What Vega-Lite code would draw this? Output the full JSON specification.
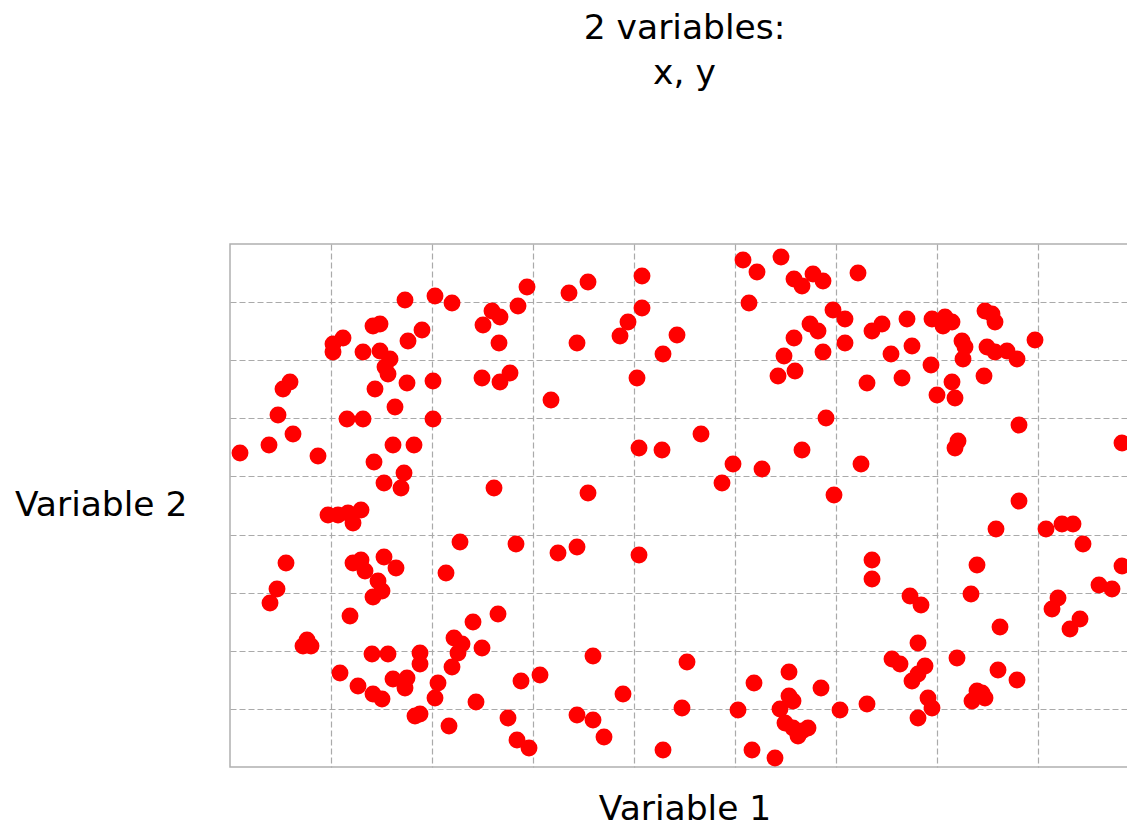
{
  "$schema": "https://vega.github.io/schema/vega-lite/v6.json",
  "width": 909,
  "height": 523,
  "padding": {"left": 14, "top": 10, "right": 0, "bottom": 0},
  "background": "white",
  "title": {
    "text": ["2 variables:", "x, y"],
    "font": "DejaVu Sans",
    "fontSize": 34.5,
    "fontWeight": "normal",
    "color": "#000000",
    "lineHeight": 45,
    "anchor": "middle",
    "frame": "group",
    "offset": 153
  },
  "config": {
    "view": {"stroke": "#b0b0b0", "strokeWidth": 1.5},
    "axis": {
      "labels": false,
      "ticks": false,
      "domain": false,
      "grid": true,
      "gridColor": "#aaaaaa",
      "gridWidth": 1.2,
      "gridDash": [6, 3],
      "gridOpacity": 1,
      "titleFont": "DejaVu Sans",
      "titleFontSize": 34.5,
      "titleFontWeight": "normal",
      "titleColor": "#000000"
    }
  },
  "data": {
    "values": [
      {"x": 297, "y": 480}, {"x": 175, "y": 467}, {"x": 205, "y": 471}, {"x": 222, "y": 464},
      {"x": 262, "y": 456}, {"x": 270, "y": 450}, {"x": 253, "y": 442}, {"x": 288, "y": 461},
      {"x": 269, "y": 424}, {"x": 143, "y": 441}, {"x": 150, "y": 443}, {"x": 192, "y": 437},
      {"x": 178, "y": 426}, {"x": 113, "y": 429}, {"x": 103, "y": 423}, {"x": 103, "y": 415},
      {"x": 133, "y": 415}, {"x": 150, "y": 416}, {"x": 160, "y": 408}, {"x": 155, "y": 400},
      {"x": 158, "y": 393}, {"x": 177, "y": 384}, {"x": 203, "y": 386}, {"x": 145, "y": 378},
      {"x": 252, "y": 389}, {"x": 270, "y": 385}, {"x": 280, "y": 394}, {"x": 60, "y": 385},
      {"x": 53, "y": 378}, {"x": 165, "y": 360}, {"x": 48, "y": 352}, {"x": 117, "y": 348},
      {"x": 133, "y": 348}, {"x": 203, "y": 348},
      {"x": 339, "y": 474}, {"x": 358, "y": 485}, {"x": 412, "y": 491}, {"x": 412, "y": 459},
      {"x": 398, "y": 445}, {"x": 390, "y": 431}, {"x": 347, "y": 424}, {"x": 447, "y": 432},
      {"x": 433, "y": 413}, {"x": 407, "y": 389}, {"x": 321, "y": 367}, {"x": 513, "y": 507},
      {"x": 527, "y": 495}, {"x": 551, "y": 510}, {"x": 564, "y": 488}, {"x": 572, "y": 481},
      {"x": 583, "y": 493}, {"x": 593, "y": 486}, {"x": 519, "y": 464}, {"x": 603, "y": 457},
      {"x": 580, "y": 443}, {"x": 588, "y": 436}, {"x": 564, "y": 429}, {"x": 593, "y": 415},
      {"x": 554, "y": 411}, {"x": 565, "y": 396}, {"x": 548, "y": 391}, {"x": 596, "y": 349},
      {"x": 628, "y": 494}, {"x": 615, "y": 448}, {"x": 642, "y": 436}, {"x": 652, "y": 443},
      {"x": 677, "y": 448}, {"x": 615, "y": 424}, {"x": 661, "y": 413}, {"x": 682, "y": 421},
      {"x": 702, "y": 448}, {"x": 715, "y": 450}, {"x": 722, "y": 445}, {"x": 713, "y": 441},
      {"x": 732, "y": 426}, {"x": 735, "y": 420}, {"x": 733, "y": 408}, {"x": 701, "y": 402},
      {"x": 672, "y": 389}, {"x": 637, "y": 384}, {"x": 722, "y": 385}, {"x": 707, "y": 372},
      {"x": 725, "y": 369}, {"x": 754, "y": 391}, {"x": 755, "y": 456}, {"x": 762, "y": 453},
      {"x": 765, "y": 445}, {"x": 757, "y": 420}, {"x": 765, "y": 415}, {"x": 777, "y": 416},
      {"x": 787, "y": 408}, {"x": 805, "y": 427}, {"x": 789, "y": 342},
      {"x": 63, "y": 333}, {"x": 39, "y": 322}, {"x": 10, "y": 314}, {"x": 88, "y": 311},
      {"x": 163, "y": 322}, {"x": 184, "y": 322}, {"x": 144, "y": 305}, {"x": 174, "y": 294},
      {"x": 154, "y": 284}, {"x": 171, "y": 279}, {"x": 264, "y": 279}, {"x": 98, "y": 252},
      {"x": 108, "y": 252}, {"x": 118, "y": 254}, {"x": 131, "y": 257}, {"x": 123, "y": 244},
      {"x": 230, "y": 225}, {"x": 286, "y": 223}, {"x": 56, "y": 204}, {"x": 123, "y": 204},
      {"x": 131, "y": 207}, {"x": 154, "y": 210}, {"x": 166, "y": 199}, {"x": 135, "y": 196},
      {"x": 216, "y": 194}, {"x": 148, "y": 186}, {"x": 152, "y": 176}, {"x": 143, "y": 170},
      {"x": 47, "y": 178}, {"x": 40, "y": 164},
      {"x": 409, "y": 319}, {"x": 432, "y": 317}, {"x": 471, "y": 333}, {"x": 503, "y": 303},
      {"x": 492, "y": 284}, {"x": 532, "y": 298}, {"x": 572, "y": 317}, {"x": 358, "y": 274},
      {"x": 604, "y": 272}, {"x": 328, "y": 214}, {"x": 347, "y": 220}, {"x": 409, "y": 212},
      {"x": 631, "y": 303}, {"x": 728, "y": 326}, {"x": 725, "y": 319}, {"x": 892, "y": 324},
      {"x": 789, "y": 266}, {"x": 766, "y": 238}, {"x": 816, "y": 238}, {"x": 832, "y": 243},
      {"x": 843, "y": 243}, {"x": 853, "y": 223}, {"x": 642, "y": 207}, {"x": 642, "y": 188},
      {"x": 747, "y": 202}, {"x": 892, "y": 201}, {"x": 680, "y": 171}, {"x": 691, "y": 162},
      {"x": 741, "y": 173}, {"x": 828, "y": 169}, {"x": 822, "y": 158}, {"x": 869, "y": 182},
      {"x": 882, "y": 178}, {"x": 850, "y": 148}, {"x": 840, "y": 138}, {"x": 770, "y": 140},
      {"x": 120, "y": 151}, {"x": 77, "y": 127}, {"x": 73, "y": 121}, {"x": 81, "y": 121},
      {"x": 142, "y": 113}, {"x": 158, "y": 113}, {"x": 190, "y": 114}, {"x": 190, "y": 103},
      {"x": 110, "y": 94}, {"x": 128, "y": 81}, {"x": 143, "y": 73}, {"x": 152, "y": 68},
      {"x": 163, "y": 88}, {"x": 177, "y": 89}, {"x": 175, "y": 79}, {"x": 208, "y": 84},
      {"x": 205, "y": 69}, {"x": 190, "y": 53}, {"x": 185, "y": 51}, {"x": 219, "y": 41},
      {"x": 224, "y": 129}, {"x": 232, "y": 123}, {"x": 228, "y": 114}, {"x": 222, "y": 100},
      {"x": 243, "y": 145}, {"x": 268, "y": 153}, {"x": 252, "y": 119}, {"x": 246, "y": 65},
      {"x": 291, "y": 86}, {"x": 278, "y": 49}, {"x": 287, "y": 27}, {"x": 299, "y": 19},
      {"x": 310, "y": 92}, {"x": 363, "y": 111}, {"x": 393, "y": 73}, {"x": 347, "y": 52},
      {"x": 363, "y": 47}, {"x": 374, "y": 30}, {"x": 457, "y": 105}, {"x": 452, "y": 59},
      {"x": 433, "y": 17}, {"x": 508, "y": 57}, {"x": 524, "y": 84}, {"x": 559, "y": 95},
      {"x": 559, "y": 71}, {"x": 563, "y": 66}, {"x": 550, "y": 58}, {"x": 555, "y": 44},
      {"x": 563, "y": 39}, {"x": 572, "y": 36}, {"x": 578, "y": 39}, {"x": 568, "y": 31},
      {"x": 591, "y": 79}, {"x": 522, "y": 17}, {"x": 545, "y": 9},
      {"x": 610, "y": 57}, {"x": 637, "y": 63}, {"x": 688, "y": 124}, {"x": 662, "y": 108},
      {"x": 670, "y": 103}, {"x": 695, "y": 101}, {"x": 688, "y": 93}, {"x": 682, "y": 86},
      {"x": 698, "y": 69}, {"x": 702, "y": 59}, {"x": 688, "y": 49}, {"x": 727, "y": 109},
      {"x": 768, "y": 97}, {"x": 787, "y": 87}, {"x": 747, "y": 76}, {"x": 755, "y": 69},
      {"x": 742, "y": 66}, {"x": 752, "y": 74}
    ]
  },
  "mark": {"type": "point", "shape": "circle", "filled": true, "color": "#ff0000", "opacity": 1, "size": 285},
  "encoding": {
    "x": {
      "field": "x",
      "type": "quantitative",
      "scale": {"domain": [0, 909], "nice": false, "zero": false},
      "axis": {
        "values": [101, 202, 303, 404, 505, 606, 707, 808],
        "title": "Variable 1",
        "titlePadding": 25
      }
    },
    "y": {
      "field": "y",
      "type": "quantitative",
      "scale": {"domain": [0, 523], "nice": false, "zero": false},
      "axis": {
        "values": [58.1, 116.2, 174.3, 232.4, 290.6, 348.7, 406.8, 464.9],
        "title": "Variable 2",
        "titleAngle": 0,
        "titleAlign": "right",
        "titleBaseline": "middle",
        "titleX": -43,
        "titleY": 261.5
      }
    }
  }
}
